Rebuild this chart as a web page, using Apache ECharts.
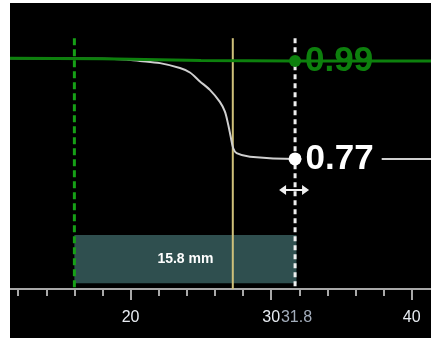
<!DOCTYPE html>
<html><head><meta charset="utf-8">
<script src="https://cdn.jsdelivr.net/npm/echarts@6/dist/echarts.min.js"></script>
<style>
html,body{margin:0;padding:0;background:#fff;width:431px;height:338px;overflow:hidden}
#c{position:absolute;left:10px;top:3px;width:421px;height:335px;background:#000}
</style></head><body><div id="c"></div>
<script>
// x domain and ticks
const xMin = 11.42, xMax = 41.37;
const yMin = 0.478, yMax = 1.120;
const minorTicks = [12,14,16,18,20,22,24,26,28,30,32,34,36,38,40];
const majorTicks = [20,30,40];
const markerLabels = [20,30,31.8,40];
// reference (green) trace
const greenX = [11.42,18,25,31.8,41.37];
const greenY = [0.996,0.995,0.991,0.99,0.99];
// measured (gray) trace
const grayX = [11.42,18,19.7,20.66,22.09,23.51,24.22,24.93,25.64,26.35,26.71,26.95,27.12,27.30,27.54,28.49,31.8,41.37];
const grayY = [0.996,0.995,0.993,0.990,0.985,0.974,0.964,0.944,0.925,0.898,0.876,0.846,0.820,0.794,0.783,0.775,0.77,0.77];
// cursors
const startX = 16, edgeX = 27.27, cursorX = 31.7;
const cursorTop = 1.041;
const span = 15.8;
const greenVal = 0.99, grayVal = 0.77;
const barTop = 0.599, barBottom = 0.491;

const zip = (a,b)=>a.map((v,i)=>[v,b[i]]);
const chart = echarts.init(document.getElementById('c'));
const lblFont = {fontFamily:'Liberation Sans, Arial, sans-serif', fontWeight:'bold', fontSize:35};
chart.setOption({
  backgroundColor:'#000',
  animation:false,
  grid:{left:0,right:0,top:0,bottom:49},
  xAxis:[{
    type:'value',min:xMin,max:xMax,
    axisLine:{show:true,lineStyle:{color:'#a8a8a8',width:2}},
    axisTick:{show:true,customValues:minorTicks,length:7,lineStyle:{color:'#a8a8a8',width:2}},
    axisLabel:{show:false},splitLine:{show:false}
  },{
    type:'value',min:xMin,max:xMax,position:'bottom',
    axisLine:{show:false},
    axisTick:{show:true,customValues:majorTicks,length:11,lineStyle:{color:'#a8a8a8',width:2}},
    axisLabel:{show:true,customValues:markerLabels,margin:21,fontSize:16,fontFamily:'Liberation Sans, Arial, sans-serif',
      color:(v)=> (Math.abs(v-31.8)<1e-6 ? '#a3adbb' : '#e8ecf2'),
      formatter:(v)=> String(v)},
    splitLine:{show:false}
  }],
  yAxis:{type:'value',min:yMin,max:yMax,show:false,splitLine:{show:false}},
  series:[
    {type:'line',data:[],z:1,
      markArea:{silent:true,itemStyle:{color:'#2f4f4f'},
        label:{show:true,position:'inside',formatter:span+' mm',color:'#fff',fontWeight:'bold',fontSize:14,fontFamily:'Liberation Sans, Arial, sans-serif'},
        data:[[{xAxis:startX,yAxis:barTop},{xAxis:31.8,yAxis:barBottom}]]}},
    {type:'line',data:[[startX,cursorTop],[startX,yMin]],symbol:'none',z:3,
      lineStyle:{color:'#16a016',width:3,type:[7,4]}},
    {type:'line',data:[[edgeX,cursorTop],[edgeX,yMin]],symbol:'none',z:3,
      lineStyle:{color:'#cfc07a',width:2}},
    {type:'line',data:[[cursorX,cursorTop],[cursorX,yMin]],symbol:'none',z:3,
      lineStyle:{color:'#eeeeee',width:3,type:[5,4]}},
    {type:'line',data:zip(grayX,grayY),symbol:'none',smooth:0.3,z:4,
      lineStyle:{color:'#cfcfcf',width:2},
      markPoint:{symbol:'circle',symbolSize:13,itemStyle:{color:'#fff'},
        label:{show:true,position:'right',distance:0,formatter:String(grayVal),color:'#fff',backgroundColor:'#000',padding:[5,8,0,4],...lblFont},
        data:[{coord:[cursorX,grayVal]}]}},
    {type:'line',data:zip(greenX,greenY),symbol:'none',z:5,
      lineStyle:{color:'#0d800d',width:3},
      markPoint:{symbol:'circle',symbolSize:12,itemStyle:{color:'#0d800d'},
        label:{show:true,position:'right',distance:0,formatter:greenVal.toFixed(2),color:'#0d800d',backgroundColor:'#000',padding:[5,8,0,4],...lblFont},
        data:[{coord:[cursorX,greenVal]}]}},
    {type:'line',data:[],z:6,
      markPoint:{symbol:'path://M0,5 L7,0 L7,4 L23,4 L23,0 L30,5 L23,10 L23,6 L7,6 L7,10 Z',symbolSize:[30,10],
        symbolOffset:[-1,31],itemStyle:{color:'#f0f0f0'},label:{show:false},
        data:[{coord:[cursorX,grayVal]}]}}
  ]
});
</script></body></html>
